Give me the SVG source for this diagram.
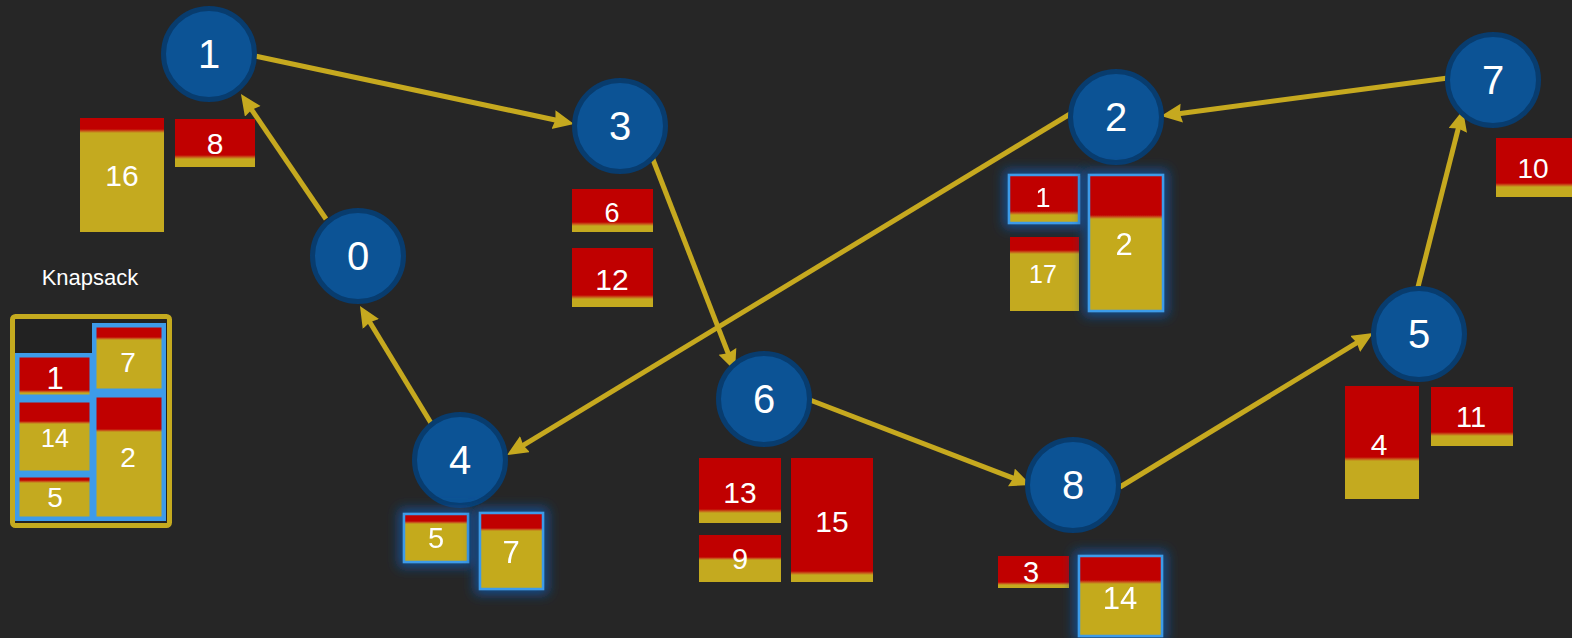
<svg xmlns="http://www.w3.org/2000/svg" width="1572" height="638" viewBox="0 0 1572 638">
<defs>
<style>
.node circle{fill:#0c5395;stroke:#083c6e;stroke-width:5}
.node text{fill:#fff;font-family:"Liberation Sans",Arial,sans-serif;font-size:40px;text-anchor:middle}
.lbl{fill:#fff;font-family:"Liberation Sans",Arial,sans-serif;text-anchor:middle}
.gold{fill:#c4aa1f}
.red{fill:#c00000}
.band{fill:url(#bandGrad)}
.edge{stroke:#c6a91f;stroke-width:5;fill:none;marker-end:url(#arr)}
.bl{fill:none;stroke:#3d9be9;stroke-width:2.5}
.kb{fill:none;stroke:#3d9be9;stroke-width:4.5}
</style>
<linearGradient id="bandGrad" x1="0" y1="0" x2="0" y2="1">
<stop offset="0" stop-color="#c00000"/><stop offset="0.5" stop-color="#c8561a"/><stop offset="1" stop-color="#c4aa1f"/>
</linearGradient>
<marker id="arr" markerUnits="userSpaceOnUse" markerWidth="24" markerHeight="20" refX="9" refY="9.5" orient="auto">
<path d="M0,0 L21,9.5 L0,19 L2,9.5 Z" fill="#c6a91f"/>
</marker>
<filter id="glow" x="-50%" y="-50%" width="200%" height="200%">
<feMorphology in="SourceAlpha" operator="dilate" radius="4" result="d"/>
<feGaussianBlur in="d" stdDeviation="6" result="b"/>
<feFlood flood-color="#164c8e" flood-opacity="1"/>
<feComposite in2="b" operator="in" result="g"/>
<feMerge><feMergeNode in="g"/><feMergeNode in="SourceGraphic"/></feMerge>
</filter>
</defs>
<rect width="1572" height="638" fill="#262626"/>

<g id="connectors">
<path class="edge" d="M326,219 L247.7,103.9"/>
<path class="edge" d="M255,56 L562.3,121.5"/>
<path class="edge" d="M652,157 L730.7,359.8"/>
<path class="edge" d="M810,400 L1019.8,480.7"/>
<path class="edge" d="M1120,487 L1362.8,339.2"/>
<path class="edge" d="M1418,287 L1460,121.6"/>
<path class="edge" d="M1448,78 L1172.9,114.4"/>
<path class="edge" d="M1070,114 L517.3,448.8"/>
<path class="edge" d="M431,423 L366.2,316.3"/>
</g>

<g id="node-1" class="node"><circle cx="209" cy="54" r="45.5"/><text x="209" y="68">1</text></g>
<g id="node-3" class="node"><circle cx="620" cy="126" r="45.5"/><text x="620" y="140">3</text></g>
<g id="node-0" class="node"><circle cx="358" cy="256" r="45.5"/><text x="358" y="270">0</text></g>
<g id="node-2" class="node"><circle cx="1116" cy="117" r="45.5"/><text x="1116" y="131">2</text></g>
<g id="node-7" class="node"><circle cx="1493" cy="80" r="45.5"/><text x="1493" y="94">7</text></g>
<g id="node-5" class="node"><circle cx="1419" cy="334" r="45.5"/><text x="1419" y="348">5</text></g>
<g id="node-8" class="node"><circle cx="1073" cy="485" r="45.5"/><text x="1073" y="499">8</text></g>
<g id="node-6" class="node"><circle cx="764" cy="399" r="45.5"/><text x="764" y="413">6</text></g>
<g id="node-4" class="node"><circle cx="460" cy="460" r="45.5"/><text x="460" y="474">4</text></g>

<g id="item-16"><rect class="gold" x="80" y="118" width="84" height="114"/><rect class="red" x="80" y="118" width="84" height="12"/><rect class="band" x="80" y="129" width="84" height="4"/><text class="lbl" x="122" y="186" font-size="30">16</text></g>
<g id="item-8"><rect class="gold" x="175" y="119" width="80" height="48"/><rect class="red" x="175" y="119" width="80" height="37"/><rect class="band" x="175" y="155" width="80" height="4"/><text class="lbl" x="215" y="154" font-size="30">8</text></g>

<g id="item-6"><rect class="gold" x="572" y="189" width="81" height="43"/><rect class="red" x="572" y="189" width="81" height="34"/><rect class="band" x="572" y="222" width="81" height="4"/><text class="lbl" x="612" y="222" font-size="27">6</text></g>
<g id="item-12"><rect class="gold" x="572" y="248" width="81" height="59"/><rect class="red" x="572" y="248" width="81" height="48"/><rect class="band" x="572" y="295" width="81" height="4"/><text class="lbl" x="612" y="290" font-size="30">12</text></g>

<g id="item-1b" filter="url(#glow)"><rect class="gold" x="1009" y="175" width="70" height="48"/><rect class="red" x="1009" y="175" width="70" height="37"/><rect class="band" x="1009" y="211" width="70" height="4"/><rect class="bl" x="1009" y="175" width="70" height="48"/><text class="lbl" x="1043" y="207" font-size="27">1</text></g>
<g id="item-17"><rect class="gold" x="1010" y="237" width="69" height="74"/><rect class="red" x="1010" y="237" width="69" height="14"/><rect class="band" x="1010" y="250" width="69" height="4"/><text class="lbl" x="1043" y="283" font-size="25">17</text></g>
<g id="item-2b" filter="url(#glow)"><rect class="gold" x="1089" y="175" width="74" height="136"/><rect class="red" x="1089" y="175" width="74" height="41"/><rect class="band" x="1089" y="215" width="74" height="4"/><rect class="bl" x="1089" y="175" width="74" height="136"/><text class="lbl" x="1124" y="255" font-size="31">2</text></g>

<g id="item-5b" filter="url(#glow)"><rect class="gold" x="404" y="514" width="64" height="48"/><rect class="red" x="404" y="514" width="64" height="8"/><rect class="band" x="404" y="521" width="64" height="3"/><rect class="bl" x="404" y="514" width="64" height="48"/><text class="lbl" x="436" y="548" font-size="29">5</text></g>
<g id="item-7b" filter="url(#glow)"><rect class="gold" x="480" y="513" width="63" height="76"/><rect class="red" x="480" y="513" width="63" height="16"/><rect class="band" x="480" y="528" width="63" height="3"/><rect class="bl" x="480" y="513" width="63" height="76"/><text class="lbl" x="511" y="563" font-size="31">7</text></g>

<g id="item-13"><rect class="gold" x="699" y="458" width="82" height="65"/><rect class="red" x="699" y="458" width="82" height="52"/><rect class="band" x="699" y="509" width="82" height="4"/><text class="lbl" x="740" y="503" font-size="30">13</text></g>
<g id="item-9"><rect class="gold" x="699" y="535" width="82" height="47"/><rect class="red" x="699" y="535" width="82" height="23"/><rect class="band" x="699" y="557" width="82" height="3"/><text class="lbl" x="740" y="569" font-size="29">9</text></g>
<g id="item-15"><rect class="gold" x="791" y="458" width="82" height="124"/><rect class="red" x="791" y="458" width="82" height="114"/><rect class="band" x="791" y="571" width="82" height="4"/><text class="lbl" x="832" y="532" font-size="30">15</text></g>

<g id="item-3"><rect class="gold" x="998" y="556" width="71" height="32"/><rect class="red" x="998" y="556" width="71" height="27"/><rect class="band" x="998" y="582" width="71" height="3"/><text class="lbl" x="1031" y="582" font-size="29">3</text></g>
<g id="item-14b" filter="url(#glow)"><rect class="gold" x="1079" y="556" width="83" height="80"/><rect class="red" x="1079" y="556" width="83" height="25"/><rect class="band" x="1079" y="580" width="83" height="4"/><rect class="bl" x="1079" y="556" width="83" height="80"/><text class="lbl" x="1120" y="609" font-size="31">14</text></g>

<g id="item-4"><rect class="gold" x="1345" y="386" width="74" height="113"/><rect class="red" x="1345" y="386" width="74" height="72"/><rect class="band" x="1345" y="457" width="74" height="4"/><text class="lbl" x="1379" y="455" font-size="30">4</text></g>
<g id="item-11"><rect class="gold" x="1431" y="387" width="82" height="59"/><rect class="red" x="1431" y="387" width="82" height="46"/><rect class="band" x="1431" y="432" width="82" height="4"/><text class="lbl" x="1471" y="427" font-size="29">11</text></g>

<g id="item-10"><rect class="gold" x="1496" y="138" width="80" height="59"/><rect class="red" x="1496" y="138" width="80" height="46"/><rect class="band" x="1496" y="183" width="80" height="4"/><text class="lbl" x="1533" y="178" font-size="28">10</text></g>

<g id="knapsack">
<text class="lbl" x="90" y="285" font-size="22">Knapsack</text>
<rect x="12.5" y="316.5" width="157" height="209" rx="3" fill="#222" stroke="#c4aa1f" stroke-width="5"/>
<g id="k-7"><rect class="gold" x="94" y="325" width="70" height="66"/><rect class="red" x="94" y="325" width="70" height="13"/><rect class="band" x="94" y="337" width="70" height="3"/><rect class="kb" x="94.25" y="325.25" width="69.5" height="65.5"/><text class="lbl" x="128" y="372" font-size="28">7</text></g>
<g id="k-1"><rect class="gold" x="17" y="355" width="75" height="42"/><rect class="red" x="17" y="355" width="75" height="36"/><rect class="band" x="17" y="390" width="75" height="3"/><rect class="kb" x="17.25" y="355.25" width="74.5" height="41.5"/><text class="lbl" x="55" y="389" font-size="31">1</text></g>
<g id="k-14"><rect class="gold" x="17" y="400" width="75" height="73"/><rect class="red" x="17" y="400" width="75" height="22"/><rect class="band" x="17" y="421" width="75" height="3"/><rect class="kb" x="17.25" y="400.25" width="74.5" height="72.5"/><text class="lbl" x="55" y="447" font-size="25">14</text></g>
<g id="k-5"><rect class="gold" x="17" y="475" width="75" height="44"/><rect class="red" x="17" y="475" width="75" height="6"/><rect class="band" x="17" y="480" width="75" height="3"/><rect class="kb" x="17.25" y="475.25" width="74.5" height="43.5"/><text class="lbl" x="55" y="507" font-size="28">5</text></g>
<g id="k-2"><rect class="gold" x="94" y="395" width="70" height="124"/><rect class="red" x="94" y="395" width="70" height="35"/><rect class="band" x="94" y="429" width="70" height="3"/><rect class="kb" x="94.25" y="395.25" width="69.5" height="123.5"/><text class="lbl" x="128" y="467" font-size="28">2</text></g>
</g>
</svg>
